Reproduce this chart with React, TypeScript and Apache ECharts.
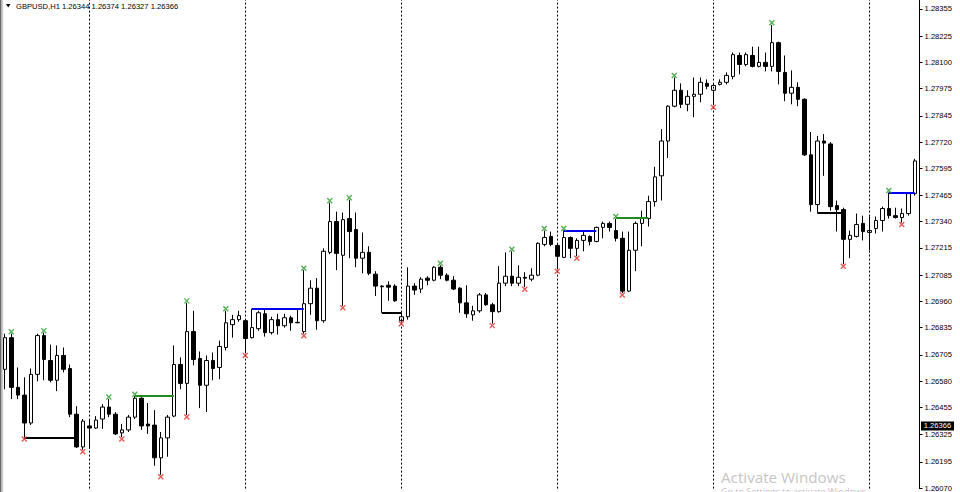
import React, { useEffect, useRef } from 'react';
import * as echarts from 'echarts';

// ---- data (GBPUSD H1) ----
const headerText = 'GBPUSD,H1 1.26344 1.26374 1.26327 1.26366';
const lastPrice = 1.26366;

const opens = [
  1.26636, 1.26787, 1.26550, 1.26513, 1.26380, 1.26612, 1.26797, 1.26678, 1.26584, 1.26702,
  1.26640, 1.26422, 1.26266, 1.26366, 1.26356, 1.26399, 1.26456, 1.26422, 1.26333, 1.26347,
  1.26408, 1.26498, 1.26375, 1.26370, 1.26214, 1.26309, 1.26413, 1.26659, 1.26569, 1.26816,
  1.26688, 1.26560, 1.26678, 1.26645, 1.26740, 1.26849, 1.26873, 1.26868, 1.26787, 1.26830,
  1.26901, 1.26811, 1.26873, 1.26844, 1.26882, 1.26860, 1.26816, 1.26949, 1.27023, 1.26868,
  1.27194, 1.27341, 1.27180, 1.27355, 1.27303, 1.27166, 1.27194, 1.27090, 1.27033, 1.27037,
  1.27033, 1.26868, 1.26887, 1.27033, 1.27019, 1.27071, 1.27061, 1.27123, 1.27085, 1.27061,
  1.27023, 1.26953, 1.26896, 1.26915, 1.26991, 1.26944, 1.26911, 1.27047, 1.27080, 1.27047,
  1.27075, 1.27066, 1.27085, 1.27232, 1.27270, 1.27227, 1.27170, 1.27265, 1.27213, 1.27251,
  1.27270, 1.27246, 1.27313, 1.27332, 1.27298, 1.27261, 1.27009, 1.27204, 1.27332, 1.27355,
  1.27436, 1.27559, 1.27725, 1.27891, 1.27967, 1.27900, 1.27938, 1.27948, 1.28000, 1.27967,
  1.27995, 1.28005, 1.28033, 1.28133, 1.28090, 1.28133, 1.28081, 1.28100, 1.28081, 1.28194,
  1.28052, 1.27953, 1.27981, 1.27924, 1.27659, 1.27422, 1.27725, 1.27711, 1.27417, 1.27398,
  1.27256, 1.27270, 1.27332, 1.27289, 1.27308, 1.27346, 1.27403, 1.27369, 1.27360, 1.27379,
  1.27474,
];
const closes = [
  1.26787, 1.26550, 1.26513, 1.26380, 1.26612, 1.26797, 1.26683, 1.26584, 1.26702, 1.26636,
  1.26422, 1.26266, 1.26389, 1.26356, 1.26394, 1.26456, 1.26422, 1.26328, 1.26347, 1.26408,
  1.26498, 1.26366, 1.26366, 1.26214, 1.26309, 1.26408, 1.26659, 1.26569, 1.26816, 1.26683,
  1.26560, 1.26678, 1.26640, 1.26745, 1.26858, 1.26873, 1.26892, 1.26783, 1.26835, 1.26906,
  1.26811, 1.26873, 1.26844, 1.26882, 1.26858, 1.26858, 1.26949, 1.27023, 1.26868, 1.27199,
  1.27341, 1.27189, 1.27350, 1.27293, 1.27166, 1.27194, 1.27094, 1.27033, 1.27030, 1.27028,
  1.26963, 1.26887, 1.27033, 1.27014, 1.27066, 1.27061, 1.27123, 1.27085, 1.27061, 1.27019,
  1.26953, 1.26901, 1.26915, 1.26991, 1.26944, 1.26911, 1.27047, 1.27080, 1.27047, 1.27075,
  1.27071, 1.27085, 1.27237, 1.27265, 1.27232, 1.27175, 1.27265, 1.27213, 1.27251, 1.27275,
  1.27246, 1.27313, 1.27332, 1.27313, 1.27261, 1.27009, 1.27204, 1.27332, 1.27360, 1.27436,
  1.27554, 1.27725, 1.27891, 1.27967, 1.27900, 1.27938, 1.27948, 1.28005, 1.27986, 1.27990,
  1.28005, 1.28038, 1.28137, 1.28090, 1.28137, 1.28081, 1.28100, 1.28081, 1.28194, 1.28057,
  1.27953, 1.27981, 1.27924, 1.27659, 1.27422, 1.27725, 1.27715, 1.27412, 1.27398, 1.27256,
  1.27275, 1.27327, 1.27293, 1.27298, 1.27346, 1.27403, 1.27369, 1.27360, 1.27379, 1.27474,
  1.27630,
];
const lows = [
  1.26541, 1.26494, 1.26494, 1.26313, 1.26370, 1.26579, 1.26584, 1.26574, 1.26532, 1.26621,
  1.26408, 1.26261, 1.26252, 1.26257, 1.26352, 1.26352, 1.26408, 1.26323, 1.26313, 1.26337,
  1.26399, 1.26347, 1.26328, 1.26176, 1.26133, 1.26219, 1.26408, 1.26541, 1.26418, 1.26655,
  1.26451, 1.26432, 1.26584, 1.26589, 1.26726, 1.26787, 1.26863, 1.26712, 1.26783, 1.26820,
  1.26792, 1.26802, 1.26802, 1.26835, 1.26820, 1.26856, 1.26806, 1.26896, 1.26825, 1.26858,
  1.27185, 1.27109, 1.26939, 1.27166, 1.27123, 1.27094, 1.27085, 1.26986, 1.26906, 1.26963,
  1.26958, 1.26863, 1.26873, 1.26991, 1.27000, 1.27037, 1.27056, 1.27066, 1.27056, 1.27014,
  1.26906, 1.26882, 1.26868, 1.26906, 1.26939, 1.26854, 1.26906, 1.27033, 1.27033, 1.27033,
  1.27028, 1.27056, 1.27080, 1.27223, 1.27223, 1.27113, 1.27166, 1.27166, 1.27175, 1.27199,
  1.27227, 1.27242, 1.27261, 1.27293, 1.27246, 1.27000, 1.27005, 1.27104, 1.27223, 1.27317,
  1.27412, 1.27441, 1.27644, 1.27886, 1.27882, 1.27867, 1.27839, 1.27910, 1.27972, 1.27896,
  1.27990, 1.27995, 1.28019, 1.28043, 1.28081, 1.28076, 1.28076, 1.28057, 1.28057, 1.27995,
  1.27915, 1.27900, 1.27891, 1.27654, 1.27388, 1.27384, 1.27559, 1.27393, 1.27293, 1.27137,
  1.27166, 1.27265, 1.27251, 1.27204, 1.27284, 1.27293, 1.27355, 1.27355, 1.27336, 1.27369,
  1.27464,
];
const highs = [
  1.26806, 1.26806, 1.26645, 1.26598, 1.26640, 1.26806, 1.26811, 1.26754, 1.26750, 1.26740,
  1.26659, 1.26460, 1.26399, 1.26394, 1.26413, 1.26470, 1.26494, 1.26432, 1.26375, 1.26418,
  1.26508, 1.26503, 1.26475, 1.26441, 1.26337, 1.26418, 1.26750, 1.26693, 1.26953, 1.26915,
  1.26721, 1.26702, 1.26716, 1.26773, 1.26915, 1.26896, 1.26915, 1.26873, 1.26925, 1.26915,
  1.26920, 1.26887, 1.26901, 1.26901, 1.26892, 1.26920, 1.27109, 1.27061, 1.27071, 1.27213,
  1.27431, 1.27388, 1.27384, 1.27445, 1.27384, 1.27289, 1.27223, 1.27104, 1.27037, 1.27056,
  1.27042, 1.26906, 1.27123, 1.27047, 1.27075, 1.27080, 1.27128, 1.27132, 1.27094, 1.27080,
  1.27028, 1.27037, 1.26939, 1.27000, 1.27000, 1.26953, 1.27128, 1.27194, 1.27199, 1.27132,
  1.27099, 1.27118, 1.27242, 1.27298, 1.27293, 1.27237, 1.27298, 1.27270, 1.27261, 1.27293,
  1.27275, 1.27317, 1.27341, 1.27341, 1.27355, 1.27293, 1.27293, 1.27341, 1.27393, 1.27464,
  1.27602, 1.27782, 1.27896, 1.28028, 1.28000, 1.27967, 1.28028, 1.28028, 1.28019, 1.28000,
  1.28019, 1.28052, 1.28147, 1.28147, 1.28147, 1.28175, 1.28175, 1.28147, 1.28279, 1.28199,
  1.28133, 1.28062, 1.28005, 1.27929, 1.27768, 1.27749, 1.27758, 1.27720, 1.27441, 1.27407,
  1.27298, 1.27379, 1.27369, 1.27365, 1.27365, 1.27412, 1.27479, 1.27407, 1.27403, 1.27479,
  1.27640,
];

// fractal markers (bar indices)
const upFractals = [1, 6, 16, 20, 28, 34, 46, 50, 53, 67, 78, 83, 86, 94, 103, 118, 136];
const downFractals = [3, 12, 18, 24, 28, 37, 46, 52, 61, 75, 80, 85, 88, 95, 109, 129, 138];

// horizontal level segments
const levelFrom = [3, 20, 38, 58, 86, 94, 125, 136];
const levelTo = [11, 26, 46, 61, 91, 99, 129, 140];
const levelPrice = [1.26311, 1.26510, 1.26925, 1.26906, 1.27298, 1.27360, 1.27384, 1.27479];
const levelKind = ['support', 'breakout', 'range', 'support', 'range', 'breakout', 'support', 'range'];

// day separators (bar index of each new day)
const daySeparators = [13, 37, 61, 85, 109, 133];

// price scale labels
const priceTicks = [
  1.28355, 1.28225, 1.281, 1.27975, 1.27845, 1.2772, 1.27595, 1.27465, 1.2734, 1.27215,
  1.27085, 1.2696, 1.26835, 1.26705, 1.2658, 1.26455, 1.26325, 1.26195, 1.2607,
];
const priceMin = 1.260671;
const priceMax = 1.283976;

const kindColor: Record<string, string> = {
  support: '#000000',
  breakout: '#1e8c1e',
  range: '#0000ee',
};

const FONT = 'Liberation Sans, Arial, sans-serif';

export default function App() {
  const ref = useRef<HTMLDivElement>(null);

  useEffect(() => {
    const el = ref.current;
    if (!el) return;
    const chart = echarts.init(el, null, { renderer: 'svg' });
    const cats = opens.map((_, i) => String(i));
    const candles = opens.map((o, i) => [o, closes[i], lows[i], highs[i]]);

    const sepLines = daySeparators.map((i) => ({
      xAxis: String(i),
      lineStyle: { color: '#000', width: 1, type: [2, 2] },
    }));
    const levelLines = levelPrice.map((p, k) => [
      {
        coord: [String(levelFrom[k]), p],
        lineStyle: { color: kindColor[levelKind[k]], width: 2, type: 'solid' },
      },
      { coord: [String(levelTo[k]), p] },
    ]);

    const xSym = 'path://M0,0L10,10M10,0L0,10';

    chart.setOption({
      animation: false,
      backgroundColor: '#ffffff',
      grid: { left: 1.55, right: 41.95, top: 0, bottom: 0, containLabel: false },
      xAxis: {
        type: 'category',
        data: cats,
        boundaryGap: true,
        show: false,
      },
      yAxis: {
        type: 'value',
        position: 'right',
        min: priceMin,
        max: priceMax,
        offset: 1.5,
        axisLine: { show: true, lineStyle: { color: '#000', width: 1 } },
        axisTick: {
          show: true,
          length: 3,
          customValues: priceTicks,
          lineStyle: { color: '#000', width: 1 },
        },
        axisLabel: {
          show: true,
          customValues: priceTicks,
          formatter: (v: number) => v.toFixed(5),
          fontSize: 7.6,
          fontFamily: FONT,
          color: '#000',
          margin: 5,
        },
        splitLine: { show: false },
      },
      series: [
        {
          type: 'candlestick',
          data: candles,
          barWidth: 4,
          itemStyle: {
            color: '#ffffff',
            color0: '#000000',
            borderColor: '#000000',
            borderColor0: '#000000',
            borderWidth: 1,
          },
          markLine: {
            silent: true,
            symbol: ['none', 'none'],
            label: { show: false },
            animation: false,
            data: [...sepLines, ...levelLines],
          },
          z: 2,
        },
        {
          type: 'scatter',
          data: upFractals.map((i) => [String(i), highs[i]]),
          symbol: xSym,
          symbolSize: 5,
          symbolOffset: [0, -2],
          itemStyle: { color: 'rgba(0,0,0,0)', borderColor: '#2a9d2a', borderWidth: 1.4 },
          silent: true,
          z: 5,
        },
        {
          type: 'scatter',
          data: downFractals.map((i) => [String(i), lows[i]]),
          symbol: xSym,
          symbolSize: 5,
          symbolOffset: [0, 2],
          itemStyle: { color: 'rgba(0,0,0,0)', borderColor: '#e0302a', borderWidth: 1.4 },
          silent: true,
          z: 5,
        },
      ],
    });

    const py = chart.convertToPixel({ yAxisIndex: 0 }, lastPrice) as number;

    chart.setOption({
      graphic: [
        { type: 'rect', shape: { x: 0, y: 0, width: 1.5, height: 492 }, style: { fill: '#6a6a6a' }, silent: true },
        { type: 'rect', shape: { x: 2.2, y: 0, width: 1, height: 492 }, style: { fill: '#c4c4c4' }, silent: true },
        {
          type: 'polygon',
          shape: { points: [[6, 4], [10.5, 4], [8.25, 7.5]] },
          style: { fill: '#000' },
          silent: true,
        },
        {
          type: 'text',
          x: 16,
          y: 6,
          style: { text: headerText, font: `7.6px ${FONT}`, fill: '#000', verticalAlign: 'middle' },
          silent: true,
        },
        {
          type: 'rect',
          shape: { x: 921, y: py - 4.5, width: 33, height: 9 },
          style: { fill: '#000' },
          silent: true,
          z: 100,
        },
        {
          type: 'text',
          x: 937.5,
          y: py,
          z: 101,
          style: {
            text: lastPrice.toFixed(5),
            font: `7.6px ${FONT}`,
            fill: '#fff',
            align: 'center',
            verticalAlign: 'middle',
          },
          silent: true,
        },
        {
          type: 'text',
          x: 721,
          y: 468,
          style: {
            text: 'Activate Windows',
            font: '15.2px "Open Sans", sans-serif',
            lineHeight: 17,
            fill: '#c6c6c6',
          },
          silent: true,
        },
        {
          type: 'text',
          x: 721,
          y: 486,
          style: {
            text: 'Go to Settings to activate Windows.',
            font: '9px "Open Sans", sans-serif',
            lineHeight: 10,
            fill: '#c6c6c6',
          },
          silent: true,
        },
      ],
    });

    return () => chart.dispose();
  }, []);

  return (
    <div
      ref={ref}
      style={{ position: 'fixed', left: 0, top: 0, width: 960, height: 492, background: '#fff' }}
    />
  );
}
